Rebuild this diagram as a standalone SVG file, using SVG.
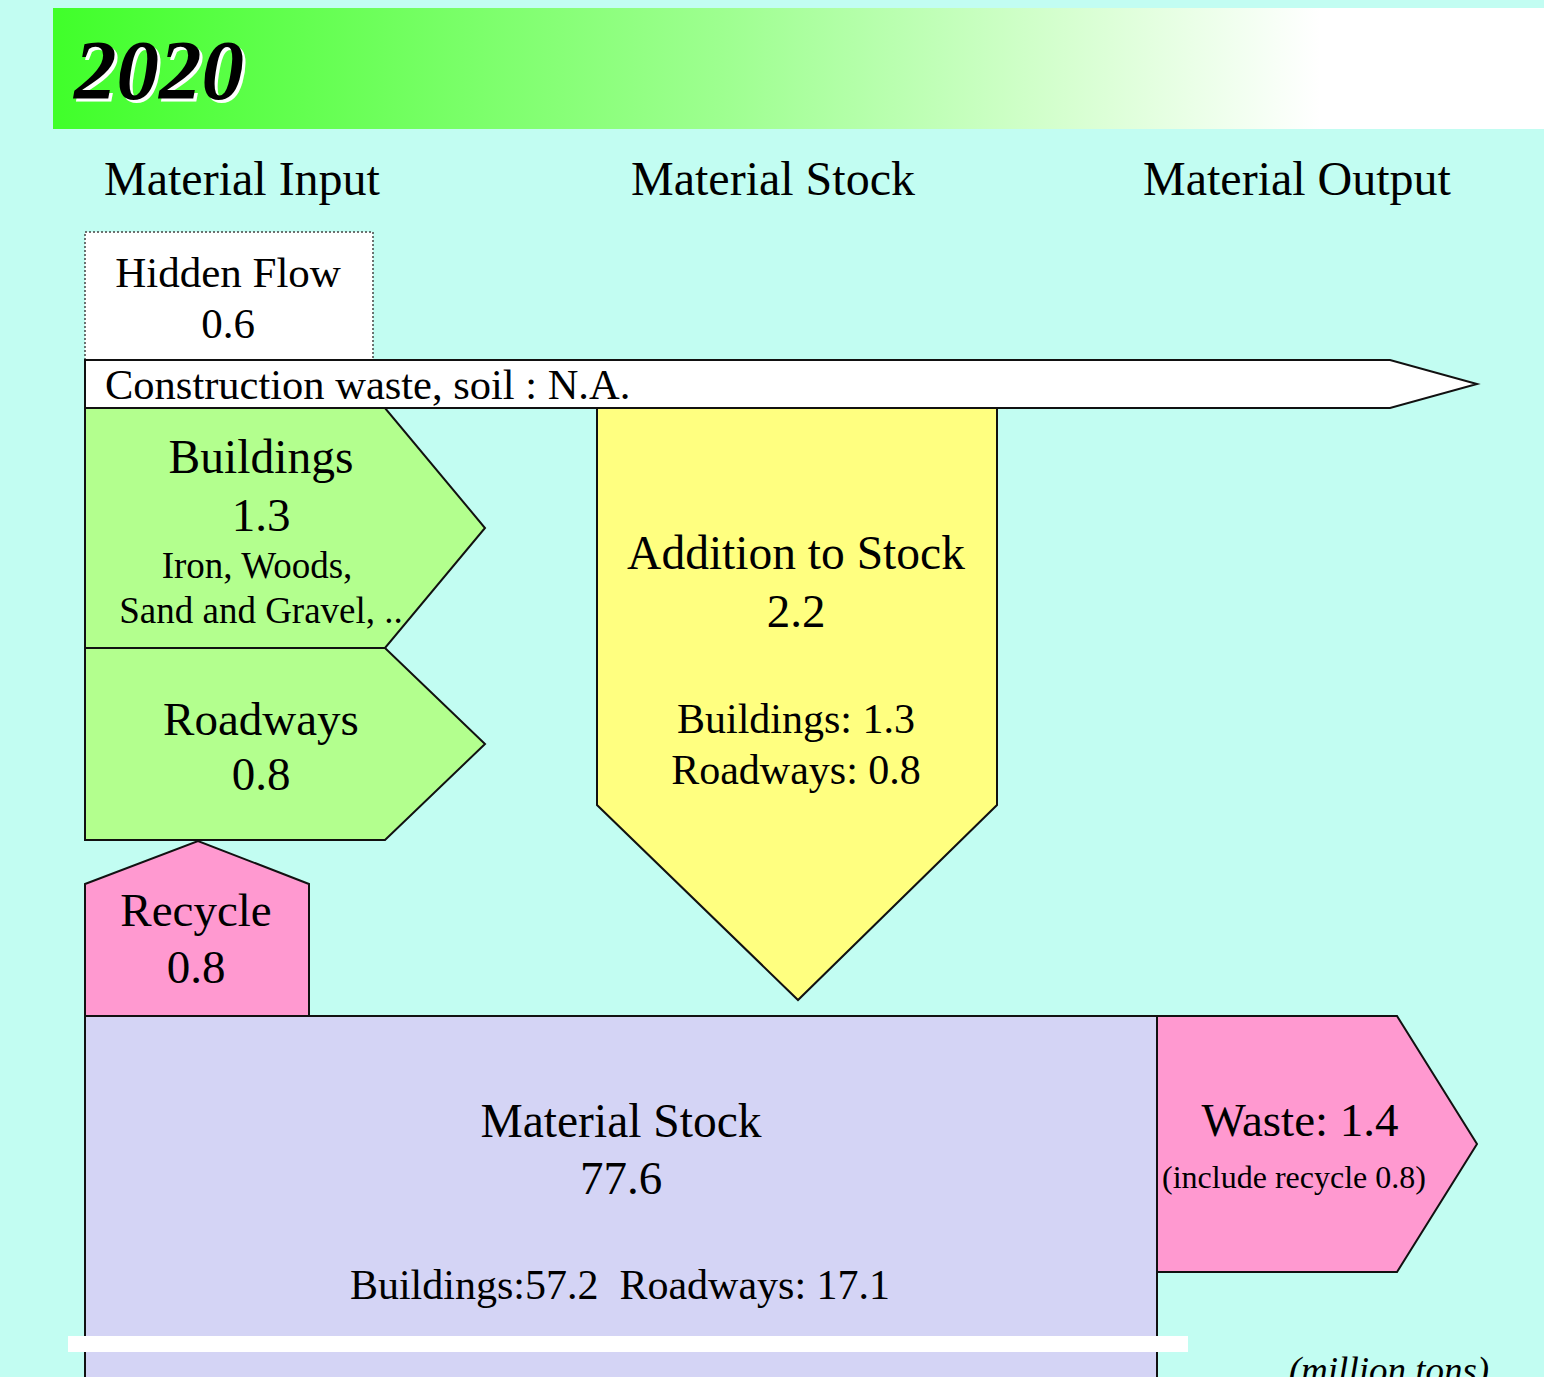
<svg xmlns="http://www.w3.org/2000/svg" width="1544" height="1377" viewBox="0 0 1544 1377">
<defs>
<linearGradient id="hdr" x1="0" y1="0" x2="1" y2="0">
<stop offset="0" stop-color="#40FF2A"/>
<stop offset="0.45" stop-color="#9EFF90"/>
<stop offset="0.85" stop-color="#FFFFFF"/>
<stop offset="1" stop-color="#FFFFFF"/>
</linearGradient>
<style>
.t{font-family:"Liberation Serif","Times New Roman",serif;fill:#000;text-anchor:middle}
.s{stroke:#111;stroke-width:2;stroke-linejoin:miter}
.g{fill:#B3FF8E}
.p{fill:#FF99D0}
.y{fill:#FFFF80}
.l{fill:#D4D4F5}
.w{fill:#FFFFFF}
</style>
</defs>
<rect x="0" y="0" width="1544" height="1377" fill="#C2FDF2"/>
<g id="header">
<rect x="53" y="8" width="1491" height="121" fill="url(#hdr)"/>
<text x="77" y="102" class="t" style="font-size:85px;font-weight:bold;font-style:italic;text-anchor:start;fill:#fff">2020</text>
<text x="74" y="99" class="t" style="font-size:85px;font-weight:bold;font-style:italic;text-anchor:start">2020</text>
</g>
<g id="column-headers">
<text x="242" y="195" class="t" font-size="48">Material Input</text>
<text x="773" y="195" class="t" font-size="48">Material Stock</text>
<text x="1297" y="195" class="t" font-size="48">Material Output</text>
</g>
<g id="connectors"></g>
<g id="hidden-flow">
<rect x="85" y="232" width="288" height="128" class="w" stroke="#444" stroke-width="1.5" stroke-dasharray="2,2"/>
<text x="228" y="287" class="t" font-size="43">Hidden Flow</text>
<text x="228" y="338" class="t" font-size="43">0.6</text>
</g>
<g id="construction-waste">
<polygon points="85,360 1390,360 1477,384 1390,408 85,408" class="w s"/>
<text x="105" y="399" class="t" font-size="42.5" style="text-anchor:start">Construction waste, soil : N.A.</text>
</g>
<g id="buildings">
<polygon points="85,408 385,408 485,528 385,648 85,648" class="g s"/>
<text x="261" y="473" class="t" font-size="47.5">Buildings</text>
<text x="261" y="531" class="t" font-size="47">1.3</text>
<text x="257" y="578" class="t" font-size="37">Iron, Woods,</text>
<text x="261" y="623" class="t" font-size="37">Sand and Gravel, ..</text>
</g>
<g id="roadways">
<polygon points="85,648 385,648 485,744 385,840 85,840" class="g s"/>
<text x="261" y="735" class="t" font-size="47">Roadways</text>
<text x="261" y="790" class="t" font-size="47">0.8</text>
</g>
<g id="recycle">
<polygon points="85,1016 85,884 198,841 309,884 309,1016" class="p s"/>
<text x="196" y="926" class="t" font-size="47">Recycle</text>
<text x="196" y="983" class="t" font-size="47">0.8</text>
</g>
<g id="addition-to-stock">
<polygon points="597,408 997,408 997,805 798,1000 597,805" class="y s"/>
<text x="796" y="569" class="t" font-size="47.5">Addition to Stock</text>
<text x="796" y="627" class="t" font-size="47">2.2</text>
<text x="796" y="733" class="t" font-size="42">Buildings: 1.3</text>
<text x="796" y="784" class="t" font-size="42">Roadways: 0.8</text>
</g>
<g id="material-stock">
<rect x="85" y="1016" width="1072" height="420" class="l s"/>
<text x="621" y="1137" class="t" font-size="47.5">Material Stock</text>
<text x="621" y="1194" class="t" font-size="47">77.6</text>
<text x="620" y="1299" class="t" font-size="42" xml:space="preserve">Buildings:57.2  Roadways: 17.1</text>
</g>
<g id="waste">
<polygon points="1157,1016 1397,1016 1477,1144 1397,1272 1157,1272" class="p s"/>
<text x="1300" y="1136" class="t" font-size="47">Waste: 1.4</text>
<text x="1294" y="1188" class="t" font-size="32">(include recycle 0.8)</text>
</g>
<rect x="68" y="1336" width="1120" height="16" fill="#FFFFFF"/>
<text x="1389" y="1383" class="t" font-size="37" font-style="italic">(million tons)</text>
</svg>
